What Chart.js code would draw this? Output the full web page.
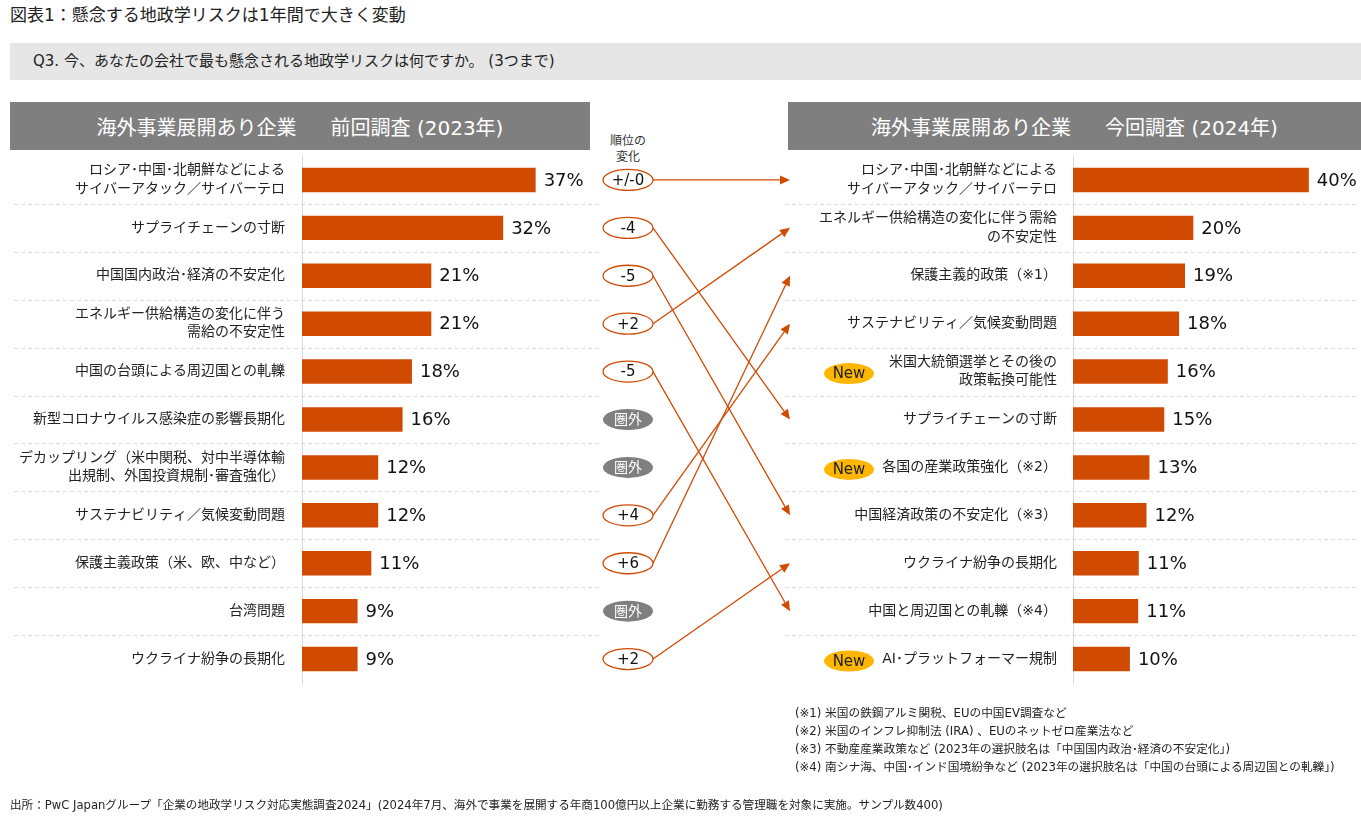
<!DOCTYPE html>
<html lang="ja">
<head>
<meta charset="utf-8">
<script src="https://cdn.jsdelivr.net/npm/chart.js@4.4.1/dist/chart.umd.min.js"></script>
<style>
  html,body{margin:0;padding:0;background:#fff;}
  body{width:1361px;height:822px;position:relative;overflow:hidden;
       font-family:"DejaVu Sans","Noto Sans CJK JP",sans-serif;color:#222;}
  .abs{position:absolute;}
  #title{left:10px;top:5px;font-size:17px;line-height:20px;color:#222;white-space:nowrap;}
  #q{left:10px;top:43px;width:1351px;height:37px;background:#e6e6e6;font-size:15px;line-height:37px;
     padding-left:23px;box-sizing:border-box;white-space:nowrap;color:#222;}
  .hdr{top:102px;height:48px;background:#7f7f7f;color:#fff;font-size:20px;display:flex;
       align-items:center;justify-content:center;white-space:nowrap;}
  .hdr .gap{display:inline-block;width:34px;}
  #h1{left:10px;width:580px;}
  #h2{left:788px;width:573px;}
  #rank{left:598px;width:60px;top:133px;font-size:12px;line-height:16px;text-align:center;color:#333;}
  #w1{left:0;top:150px;width:600px;height:540px;}
  #w2{left:740px;top:150px;width:621px;height:540px;}
  #ov{left:0;top:0;pointer-events:none;}
  #notes{left:795px;top:704px;font-size:11.7px;line-height:18px;white-space:nowrap;color:#222;}
  #src{left:10px;top:796px;font-size:11.6px;line-height:18px;white-space:nowrap;color:#222;}
</style>
</head>
<body>
<div id="title" class="abs">図表1：懸念する地政学リスクは1年間で大きく変動</div>
<div id="q" class="abs">Q3. 今、あなたの会社で最も懸念される地政学リスクは何ですか。 (3つまで)</div>
<div id="h1" class="abs hdr"><span>海外事業展開あり企業</span><span class="gap"></span><span>前回調査 (2023年)</span></div>
<div id="h2" class="abs hdr"><span>海外事業展開あり企業</span><span class="gap"></span><span>今回調査 (2024年)</span></div>
<div id="rank" class="abs">順位の<br>変化</div>
<div id="w1" class="abs"><canvas id="c1" width="600" height="540"></canvas></div>
<div id="w2" class="abs"><canvas id="c2" width="621" height="540"></canvas></div>
<canvas id="ov" class="abs" width="1361" height="822"></canvas>
<div id="notes" class="abs">(※1) 米国の鉄鋼アルミ関税、EUの中国EV調査など<br>(※2) 米国のインフレ抑制法 (IRA) 、EUのネットゼロ産業法など<br>(※3) 不動産産業政策など (2023年の選択肢名は「中国国内政治･経済の不安定化」)<br>(※4) 南シナ海、中国･インド国境紛争など (2023年の選択肢名は「中国の台頭による周辺国との軋轢」)</div>
<div id="src" class="abs">出所：PwC Japanグループ「企業の地政学リスク対応実態調査2024」(2024年7月、海外で事業を展開する年商100億円以上企業に勤務する管理職を対象に実施。サンプル数400)</div>

<script>
// ---------------- DATA ----------------
const categories2023 = [
  ['ロシア･中国･北朝鮮などによる','サイバーアタック／サイバーテロ'],
  'サプライチェーンの寸断',
  '中国国内政治･経済の不安定化',
  ['エネルギー供給構造の変化に伴う','需給の不安定性'],
  '中国の台頭による周辺国との軋轢',
  '新型コロナウイルス感染症の影響長期化',
  ['デカップリング（米中関税、対中半導体輸','出規制、外国投資規制･審査強化）'],
  'サステナビリティ／気候変動問題',
  '保護主義政策（米、欧、中など）',
  '台湾問題',
  'ウクライナ紛争の長期化'
];
const values2023 = [37.4, 32.2, 20.7, 20.7, 17.6, 16.1, 12.2, 12.2, 11.1, 8.9, 8.9];

const categories2024 = [
  ['ロシア･中国･北朝鮮などによる','サイバーアタック／サイバーテロ'],
  ['エネルギー供給構造の変化に伴う需給','の不安定性'],
  '保護主義的政策（※1）',
  'サステナビリティ／気候変動問題',
  ['米国大統領選挙とその後の','政策転換可能性'],
  'サプライチェーンの寸断',
  '各国の産業政策強化（※2）',
  '中国経済政策の不安定化（※3）',
  'ウクライナ紛争の長期化',
  '中国と周辺国との軋轢（※4）',
  'AI･プラットフォーマー規制'
];
const values2024 = [39.8, 20.3, 18.9, 17.9, 16.0, 15.4, 12.9, 12.4, 11.1, 11.0, 9.6];

// rank change of each 2023 item (null = dropped out: 圏外)
const rankChanges = [0, -4, -5, 2, -5, null, null, 4, 6, null, 2];
// new items in 2024
const newFlags2024 = [false, false, false, false, true, false, true, false, false, false, true];

// ---------------- STYLE ----------------
const FONT = '"DejaVu Sans","Noto Sans CJK JP",sans-serif';
const ORANGE = '#d04a02';
const GREY = '#7f7f7f';
const LINE = '#d9d9d9';

const separatorPlugin = {
  id: 'separators',
  beforeDatasetsDraw(chart, args, opts) {
    const y = chart.scales.y, ctx = chart.ctx;
    ctx.save();
    ctx.strokeStyle = LINE; ctx.lineWidth = 1; ctx.setLineDash([4, 3]);
    for (let i = 1; i < y.ticks.length; i++) {
      const py = Math.round((y.getPixelForValue(i - 1) + y.getPixelForValue(i)) / 2) + 0.5;
      ctx.beginPath(); ctx.moveTo(opts.x0, py); ctx.lineTo(opts.x1, py); ctx.stroke();
    }
    ctx.restore();
  }
};

const valueLabelPlugin = {
  id: 'valueLabels',
  afterDatasetsDraw(chart) {
    const ctx = chart.ctx, meta = chart.getDatasetMeta(0), data = chart.data.datasets[0].data;
    ctx.save();
    ctx.font = '18px ' + FONT; ctx.fillStyle = '#111';
    ctx.textBaseline = 'middle'; ctx.textAlign = 'left';
    meta.data.forEach((bar, i) => { ctx.fillText(Math.round(data[i]) + '%', bar.x + 8, bar.y + 1); });
    ctx.restore();
  }
};

const newBadgePlugin = {
  id: 'newBadges',
  afterDraw(chart, args, opts) {
    if (!opts.flags) return;
    const ctx = chart.ctx, y = chart.scales.y;
    ctx.save();
    opts.flags.forEach((f, i) => {
      if (!f) return;
      const cy = y.getPixelForValue(i) + 2;
      ctx.beginPath(); ctx.ellipse(opts.cx, cy, 25, 10.5, 0, 0, Math.PI * 2);
      ctx.fillStyle = '#ffb600'; ctx.fill();
      ctx.font = '15px ' + FONT; ctx.fillStyle = '#222';
      ctx.textAlign = 'center'; ctx.textBaseline = 'middle';
      ctx.fillText('New', opts.cx, cy + 1);
    });
    ctx.restore();
  }
};

function makeChart(id, labels, values, yWidth, xMax, padRight, tickPad, sep, flags) {
  return new Chart(document.getElementById(id), {
    type: 'bar',
    data: { labels: labels, datasets: [{ data: values, backgroundColor: ORANGE,
      barPercentage: 0.51, categoryPercentage: 1.0 }] },
    options: {
      indexAxis: 'y', responsive: false, animation: false, devicePixelRatio: 1,
      layout: { padding: { top: 6, bottom: 7, left: 0, right: padRight } },
      plugins: { legend: { display: false }, tooltip: { enabled: false },
        separators: sep, newBadges: { flags: flags, cx: 109 } },
      scales: {
        x: { display: false, min: 0, max: xMax },
        y: {
          afterFit(s) { s.width = yWidth; s.paddingTop = 0; s.paddingBottom = 0; },
          grid: { display: false, drawTicks: false },
          border: { display: true, color: LINE, width: 1 },
          ticks: { color: '#222', padding: tickPad, font: { family: FONT, size: 14, lineHeight: 1.3 } }
        }
      }
    },
    plugins: [separatorPlugin, valueLabelPlugin, newBadgePlugin]
  });
}

Chart.defaults.font.family = FONT;
const chart1 = makeChart('c1', categories2023, values2023, 302, 46.1, 10, 17, { x0: 14, x1: 602 }, null);
const chart2 = makeChart('c2', categories2024, values2024, 333, 48.6, 0, 16, { x0: 45, x1: 616 }, newFlags2024);

// ---------------- rank-change column & arrows ----------------
function drawOverlay() {
  const ov = document.getElementById('ov'), ctx = ov.getContext('2d');
  ctx.clearRect(0, 0, ov.width, ov.height);
  const w1 = document.getElementById('w1'), w2 = document.getElementById('w2');
  const yL = i => chart1.scales.y.getPixelForValue(i) + w1.offsetTop;
  const yR = i => chart2.scales.y.getPixelForValue(i) + w2.offsetTop;
  const cx = 628, rx = 25, ry = 10.5, x1 = 790;

  // arrows
  rankChanges.forEach((c, i) => {
    if (c === null) return;
    const target = i - c;
    const sx = cx + rx, sy = yL(i), ex = x1, ey = yR(target);
    const ang = Math.atan2(ey - sy, ex - sx), L = 10, H = 4.5;
    const bx = ex - L * Math.cos(ang), by = ey - L * Math.sin(ang);
    ctx.strokeStyle = ORANGE; ctx.fillStyle = ORANGE; ctx.lineWidth = 1.3;
    ctx.beginPath(); ctx.moveTo(sx, sy); ctx.lineTo(bx, by); ctx.stroke();
    ctx.beginPath(); ctx.moveTo(ex, ey);
    ctx.lineTo(bx + H * Math.sin(ang), by - H * Math.cos(ang));
    ctx.lineTo(bx - H * Math.sin(ang), by + H * Math.cos(ang));
    ctx.closePath(); ctx.fill();
  });

  // ellipses
  rankChanges.forEach((c, i) => {
    const cy = yL(i);
    ctx.beginPath(); ctx.ellipse(cx, cy, rx, ry, 0, 0, Math.PI * 2);
    ctx.textAlign = 'center'; ctx.textBaseline = 'middle';
    if (c === null) {
      ctx.fillStyle = GREY; ctx.fill();
      ctx.fillStyle = '#fff'; ctx.font = '14px ' + FONT;
      ctx.fillText('圏外', cx, cy + 1);
    } else {
      ctx.fillStyle = '#fff'; ctx.fill();
      ctx.strokeStyle = ORANGE; ctx.lineWidth = 1.3; ctx.stroke();
      ctx.fillStyle = '#111'; ctx.font = '15px ' + FONT;
      const txt = c === 0 ? '+/-0' : (c > 0 ? '+' + c : String(c));
      ctx.fillText(txt, cx, cy + 1);
    }
  });
}
drawOverlay();
</script>
</body>
</html>
